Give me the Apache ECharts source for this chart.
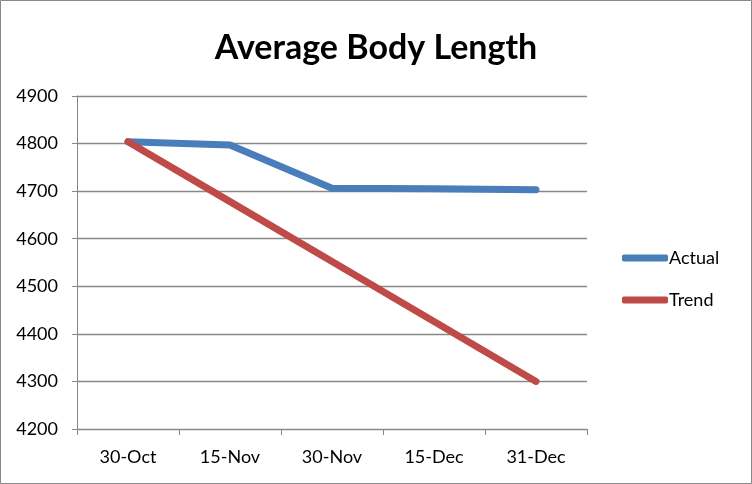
<!DOCTYPE html>
<html><head><meta charset="utf-8">
<script src="https://cdn.jsdelivr.net/npm/echarts@6/dist/echarts.min.js"></script>
<style>html,body{margin:0;padding:0;background:#fff}#c{width:752px;height:484px}</style>
</head><body><div id="c"></div>
<script>
const categories = ['30-Oct','15-Nov','30-Nov','15-Dec','31-Dec'];
const actual = [4804, 4797, 4706, 4705, 4703];
const trend = [4804, 4678, 4552, 4426, 4300];
const yTicks = {min: 4200, max: 4900, interval: 100};

const chart = echarts.init(document.getElementById('c'));
const font = 'Lato, "Open Sans", sans-serif';
chart.setOption({
  animation: false,
  backgroundColor: '#fff',
  title: {
    text: 'Average Body Length', left: 'center', top: 26,
    textStyle: {fontFamily: font, fontWeight: 'bold', fontSize: 34, color: '#000'}
  },
  graphic: [{type: 'rect', shape: {x: 0.5, y: 0.5, width: 751, height: 483},
    style: {fill: 'none', stroke: '#898989', lineWidth: 1}, silent: true}],
  grid: {left: 77, right: 165, top: 96, bottom: 55, containLabel: false},
  legend: {
    orient: 'vertical', left: 617, top: 244, itemWidth: 46, itemHeight: 7, itemGap: 24,
    icon: 'roundRect',
    textStyle: {fontFamily: font, fontSize: 18, color: '#000', padding: [0,0,0,-4]},
    data: ['Actual', 'Trend']
  },
  xAxis: {
    type: 'category', data: categories, boundaryGap: true,
    axisLine: {lineStyle: {color: '#888', width: 1}},
    axisTick: {show: true, length: 6, lineStyle: {color: '#888'}},
    axisLabel: {fontFamily: font, fontSize: 18, color: '#000', margin: 19},
    splitLine: {show: false}
  },
  yAxis: {
    type: 'value', min: yTicks.min, max: yTicks.max, interval: yTicks.interval,
    axisLine: {show: true, lineStyle: {color: '#888', width: 1}},
    axisTick: {show: true, length: 5, lineStyle: {color: '#888'}},
    axisLabel: {fontFamily: font, fontSize: 18, color: '#000', margin: 19,
      formatter: v => String(v)},
    splitLine: {show: true, lineStyle: {color: '#888', width: 1.3}}
  },
  series: [
    {name: 'Actual', type: 'line', data: actual, showSymbol: false, symbol: 'none',
     color: '#4a7ebb', lineStyle: {width: 7, color: '#4a7ebb', cap: 'round', join: 'round'}},
    {name: 'Trend', type: 'line', data: trend, showSymbol: false, symbol: 'none',
     color: '#be4b48', lineStyle: {width: 7, color: '#be4b48', cap: 'round', join: 'round'}}
  ]
});
</script></body></html>
